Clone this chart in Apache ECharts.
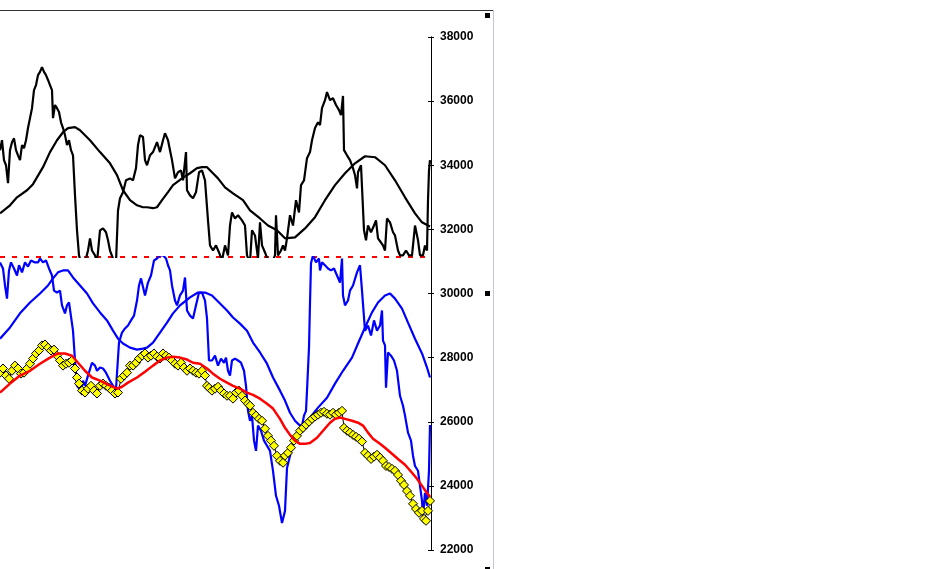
<!DOCTYPE html>
<html><head><meta charset="utf-8">
<script src="https://cdn.jsdelivr.net/npm/echarts@6/dist/echarts.min.js"></script>
<style>html,body{margin:0;padding:0;background:#fff}#c{width:935px;height:569px}</style>
</head><body><div id="c"></div>
<script>
// ---- data ----
const axisMin = 22000, axisMax = 38000, axisStep = 2000;
const splitValue = 31138;     // pane boundary (red dashed line)
const topPaneMax = 38842;     // value at top edge of upper pane
const bottomPaneMin = 21407;  // value at bottom edge of lower pane

const blackX = [0,2,4,6,8,10,12,14,16,18,20,22,24,26,28,30,32,34,36,38,40,42,44,46,48,50,52,53,55,57,59,61,63,65,67,69,71,73,75,77,79,81,85,88,90,92,95,97,100,103,106,108,110,113,116,118,120,123,126,130,133,136,138,140,143,145,147,150,153,157,160,163,165,168,170,172,175,178,181,183,186,187,190,193,196,199,202,205,208,210,213,216,219,222,225,228,230,232,235,238,242,245,247,250,252,255,258,260,262,265,268,272,275,276,278,281,283,285,287,290,293,296,299,301,304,307,310,312,315,318,320,322,325,327,330,333,336,339,341,343,344,347,350,353,355,357,358,361,363,364,366,368,371,374,376,378,381,383,385,387,390,393,395,398,400,403,406,409,412,415,418,420,423,425,427,428,429,430];
const blackValues = [34470,34780,34160,34000,33440,34470,34720,34840,34470,34310,34160,34630,34530,34780,35160,35470,35780,36340,36500,36810,36910,37060,36910,36810,36660,36500,36340,35470,35880,35780,35660,35340,35160,34940,34630,34780,34470,34310,33060,31970,31190,30970,30970,31340,31720,31340,31190,30970,31970,32030,31910,31660,31340,31090,30970,32590,32970,33160,33530,33590,33530,33910,34630,34940,34880,34160,34000,34310,34410,34720,34410,34780,35000,34780,34470,34160,33590,33780,33840,33530,34410,33220,33060,32970,33160,33780,33840,33530,32280,31500,31340,31500,31280,31030,31500,31190,32120,32530,32340,32440,32280,32120,31190,30970,31970,31810,31090,32220,31500,31280,31030,30970,31190,32440,31190,31340,31500,31340,31720,32440,32120,32910,32530,33380,33530,34220,34410,34780,35160,35340,35250,35780,36030,36280,36030,36090,35880,35720,35560,36160,34470,34310,34160,33910,33690,33280,33780,34000,34000,31970,31660,32120,31910,32120,32280,31720,31590,31500,31340,32340,32220,31910,31810,31340,31190,31190,31340,31190,31190,32120,31660,31190,31190,31500,31340,32910,33840,34160];

const blackMaX = [0,10,17,27,33,43,50,57,63,68,75,80,90,100,110,117,123,130,137,143,147,153,157,162,168,173,182,190,197,202,207,212,218,225,233,243,250,260,268,277,285,295,305,315,325,335,345,355,365,375,385,395,405,415,422,428,430];
const blackMaValues = [32500,32750,33000,33220,33410,33940,34410,34780,35030,35160,35190,35090,34780,34410,34060,33690,33220,32910,32750,32690,32690,32660,32690,32910,33160,33380,33590,33750,33910,33940,33940,33780,33590,33310,33120,32910,32590,32340,32120,31970,31720,31750,32030,32380,32910,33380,33750,34060,34280,34250,34000,33530,33000,32500,32220,32120,32090];

const blueX = [0,3,5,7,9,11,14,17,19,22,25,28,31,35,38,40,43,46,49,52,54,57,60,62,65,67,69,71,73,75,77,79,81,83,85,88,92,95,97,100,103,106,110,113,116,118,119,122,125,128,131,134,137,139,141,145,148,151,154,157,160,163,166,168,170,172,175,177,180,183,185,187,190,193,196,199,202,205,207,209,212,215,218,221,224,226,228,230,232,235,238,241,244,246,248,250,252,254,256,258,261,264,267,270,273,276,279,282,285,287,290,292,295,298,301,304,306,307,309,310,311,313,316,319,320,322,325,328,331,334,337,340,342,343,345,348,350,353,357,360,362,365,368,371,374,377,380,382,383,385,386,388,391,394,397,400,403,405,408,411,413,415,418,420,422,423,425,427,429,430];
const blueValues = [30970,30780,30250,29840,30720,30970,30780,30560,30880,30660,30970,30840,31030,30970,30970,31090,30970,31030,30780,30560,30090,30030,30090,29630,29380,29630,29720,29780,28840,27910,27120,27120,26970,27280,27120,27440,27840,27750,27590,27690,27660,27530,27280,27120,27030,27030,28470,28780,28910,29000,29160,29310,29780,30250,30470,29940,30340,30560,31030,31090,31190,31190,31090,30880,30720,30250,29780,29630,29940,30090,30500,29470,29310,29220,29630,30030,30030,29780,29220,27910,27910,28060,27750,27970,27840,28000,27590,27440,27910,27970,27910,27840,27590,27120,26340,26030,26190,25410,25090,25880,25720,25410,25250,25090,24470,23690,23380,22840,23220,24560,24940,25250,25410,25630,25720,26190,26340,26970,28310,29690,30940,31190,30970,31090,30720,30970,30880,30780,30720,30780,30560,30340,31090,29940,29630,29780,30090,30250,30660,30880,30090,28840,29000,28690,29160,28840,29000,29470,28530,28380,27060,28160,28060,27910,27590,26810,26500,26190,25660,25410,24940,24620,24470,24000,23530,23060,23780,23380,24470,25900];

const blueMaX = [0,10,20,30,40,48,53,58,63,68,73,80,87,93,100,107,113,118,123,130,137,143,147,153,160,167,173,180,190,198,205,212,220,227,233,240,247,253,260,267,273,280,285,290,295,300,305,310,318,327,335,343,352,358,365,372,378,385,390,395,402,408,415,422,427,430];
const blueMaValues = [28590,28940,29380,29720,30000,30250,30470,30660,30720,30720,30500,30250,30000,29690,29410,29160,28840,28590,28440,28310,28250,28280,28310,28470,28780,29090,29380,29630,29880,30030,30030,29940,29690,29470,29250,29060,28840,28470,28160,27810,27380,26970,26660,26280,26030,25880,25940,26130,26440,26750,27190,27590,28000,28440,28940,29410,29720,29940,30000,29840,29530,29090,28590,28130,27690,27380];

const yellowX = [0,3,6,9,12,15,18,21,24,27,30,33,36,39,42,45,48,51,54,57,60,63,66,69,72,75,77,79,82,85,88,91,94,97,100,103,106,109,112,115,118,121,124,127,130,133,136,139,142,145,148,151,154,157,160,163,166,169,172,175,178,181,184,187,190,193,196,199,202,205,207,209,212,215,218,221,224,227,230,233,236,239,242,245,248,250,253,256,259,262,265,268,271,274,277,280,283,285,288,291,294,297,300,303,306,309,312,315,318,321,324,327,330,333,336,339,342,344,347,350,353,356,359,362,365,368,371,374,377,380,383,386,389,392,395,398,401,404,407,410,413,416,419,422,424,426,428,430];
const yellowValues = [27530,27660,27440,27340,27590,27750,27660,27500,27530,27660,27810,27970,28130,28220,28380,28410,28310,28220,28250,28060,27910,27750,27810,27840,27910,27660,27380,27190,26970,26910,27030,27120,26970,26880,27120,27190,27120,27060,26970,26880,26910,27340,27440,27530,27750,27750,27840,27970,28060,28130,28000,28060,28130,28030,27970,28130,28060,28000,27910,27810,27750,27840,27690,27590,27660,27590,27530,27500,27590,27440,27120,27060,26970,27030,27090,26970,26880,26810,26810,26720,26910,26970,26810,26660,26560,26500,26280,26190,26090,26030,25780,25560,25410,25250,24940,24780,24720,24940,25030,25190,25410,25560,25720,25810,25910,26000,26090,26160,26220,26280,26310,26250,26220,26280,26220,26280,26340,25810,25720,25660,25590,25530,25470,25380,25030,24940,24840,24910,24970,24880,24780,24620,24590,24530,24470,24340,24160,24030,23840,23690,23440,23280,23160,23220,22970,22910,23220,23530];

const redX = [0,10,20,30,40,50,58,65,72,78,85,92,100,108,117,122,128,137,145,153,160,167,173,180,187,193,200,207,213,220,227,233,240,247,253,260,267,273,280,285,290,295,300,305,310,317,323,330,335,340,345,352,358,363,368,373,380,385,392,398,405,412,417,422,427,430];
const redValues = [26910,27190,27440,27590,27810,28000,28130,28130,28060,27840,27590,27380,27280,27160,27030,27090,27220,27380,27560,27750,27910,28000,28030,28000,27940,27840,27810,27660,27500,27340,27220,27120,27030,26910,26840,26720,26560,26410,26090,25810,25590,25410,25310,25310,25340,25500,25720,25970,26090,26130,26090,26030,25970,25880,25660,25470,25310,25190,25000,24840,24660,24410,24220,24000,23780,23660];

const xStart = 0, xEnd = 430;

// ---- chart ----
function pairs(xs, vs) { return xs.map((x, i) => [x, vs[i]]); }
const chart = echarts.init(document.getElementById('c'));
const xAx = (gi) => ({ gridIndex: gi, type: 'value', min: 0, max: 431, show: false });
const scaleAxis = (gi, inside, labels) => ({
  gridIndex: gi, type: 'value', min: axisMin, max: axisMax, interval: axisStep, position: 'right',
  axisLine: { show: true, onZero: false, lineStyle: { color: '#000', width: 1 } },
  axisTick: { show: true, inside: inside, length: 3, lineStyle: { color: '#000', width: 1 } },
  axisLabel: { show: labels, margin: 9, color: '#000', fontFamily: 'Liberation Sans', fontWeight: 'bold',
               fontSize: 12, formatter: (v) => String(v) },
  splitLine: { show: false }
});
chart.setOption({
  animation: false,
  backgroundColor: '#ffffff',
  grid: [
    { left: 0, top: 10, width: 431, height: 247 },
    { left: 0, top: 257, width: 431, height: 312 },
    { left: 0, top: 37, width: 431, height: 513 },
    { left: 0, top: 37, width: 431, height: 513 }
  ],
  xAxis: [xAx(0), xAx(1), xAx(2), xAx(3)],
  yAxis: [
    { gridIndex: 0, type: 'value', min: splitValue, max: topPaneMax, show: false },
    { gridIndex: 1, type: 'value', min: bottomPaneMin, max: splitValue, show: false },
    scaleAxis(2, false, true),
    scaleAxis(3, true, false)
  ],
  series: [
    { type: 'line', xAxisIndex: 2, yAxisIndex: 2, data: [[xStart, splitValue], [xEnd, splitValue]],
      symbol: 'none', lineStyle: { color: '#ff0000', width: 2, type: [5, 7] }, silent: true, z: 1 },
    { type: 'line', xAxisIndex: 0, yAxisIndex: 0, data: pairs(blackMaX, blackMaValues), symbol: 'none',
      lineStyle: { color: '#000', width: 2.2 }, z: 2 },
    { type: 'line', xAxisIndex: 0, yAxisIndex: 0, data: pairs(blackX, blackValues), symbol: 'none',
      lineStyle: { color: '#000', width: 2.2 }, z: 2 },
    { type: 'line', xAxisIndex: 1, yAxisIndex: 1, data: pairs(blueX, blueValues), symbol: 'none',
      lineStyle: { color: '#0000ff', width: 2.2 }, z: 2 },
    { type: 'line', xAxisIndex: 1, yAxisIndex: 1, data: pairs(blueMaX, blueMaValues), symbol: 'none',
      lineStyle: { color: '#0000ff', width: 2.2 }, z: 2 },
    { type: 'line', xAxisIndex: 1, yAxisIndex: 1, data: pairs(yellowX, yellowValues),
      symbol: 'diamond', symbolSize: 9, showSymbol: true, showAllSymbol: true,
      lineStyle: { color: '#000', width: 1 },
      itemStyle: { color: '#ffff00', borderColor: '#000', borderWidth: 1 }, z: 3 },
    { type: 'line', xAxisIndex: 1, yAxisIndex: 1, data: pairs(redX, redValues), symbol: 'none',
      lineStyle: { color: '#ff0000', width: 2.5 }, z: 4 }
  ],
  graphic: [
    { type: 'line', shape: { x1: 0, y1: 10.5, x2: 493, y2: 10.5 }, style: { stroke: '#333', lineWidth: 1 } },
    { type: 'line', shape: { x1: 493.5, y1: 10, x2: 493.5, y2: 569 }, style: { stroke: '#c4c4dc', lineWidth: 1 } },
    { type: 'rect', shape: { x: 485, y: 13, width: 5, height: 5 }, style: { fill: '#000' } },
    { type: 'rect', shape: { x: 485, y: 291, width: 5, height: 5 }, style: { fill: '#000' } },
    { type: 'rect', shape: { x: 485, y: 567, width: 5, height: 5 }, style: { fill: '#000' } }
  ]
});
</script></body></html>
